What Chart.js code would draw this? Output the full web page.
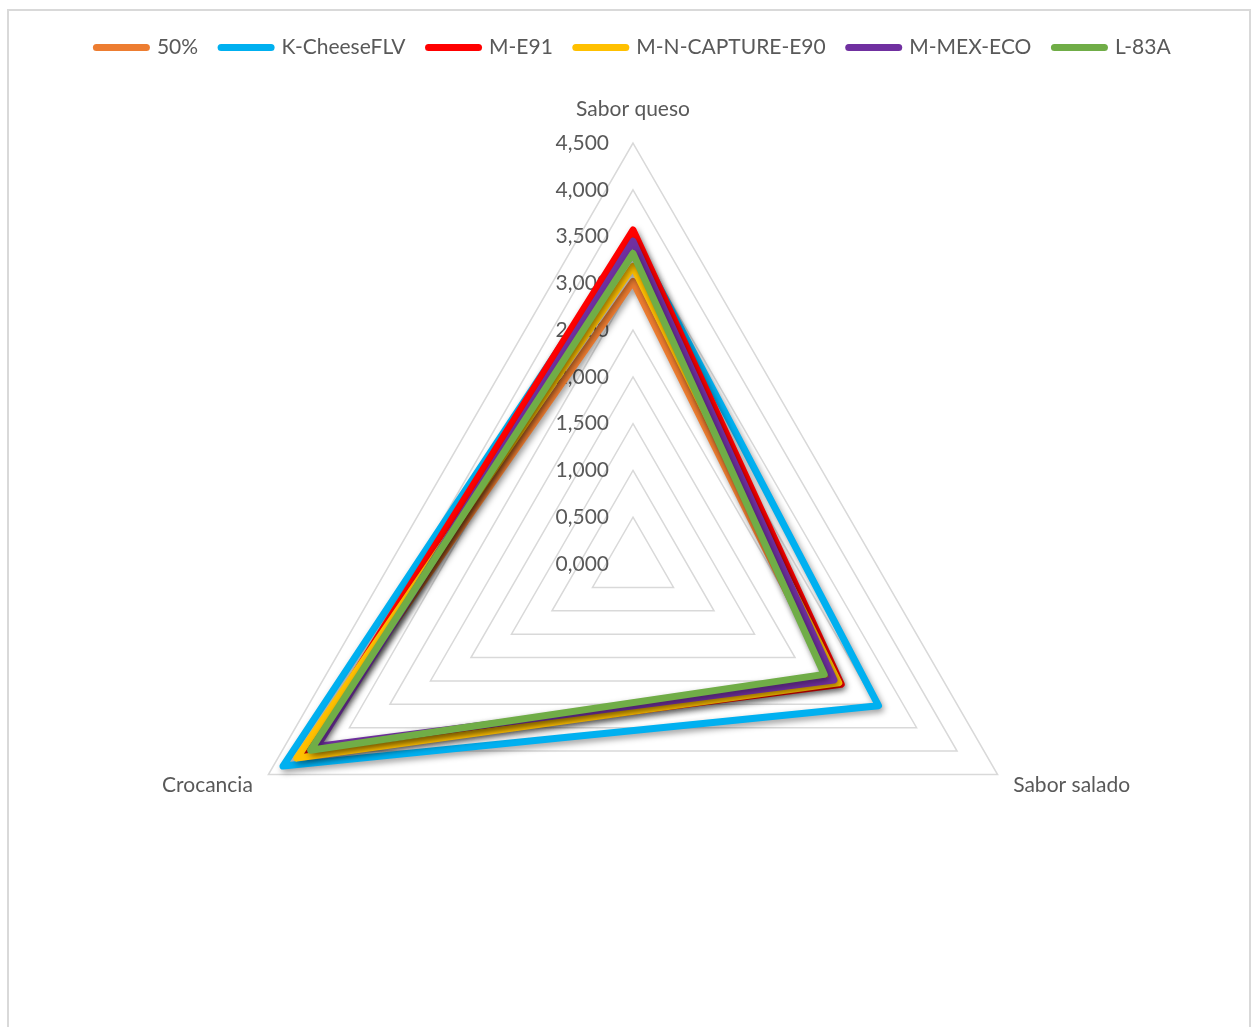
<!DOCTYPE html>
<html lang="es">
<head>
<meta charset="utf-8">
<title>Perfil sensorial</title>
<script src="https://cdn.jsdelivr.net/npm/chart.js@4.4.1/dist/chart.umd.min.js"></script>
<style>
  html, body { margin: 0; padding: 0; background: #fff; overflow: hidden; }
  #wrap { position: relative; width: 1257px; height: 1027px; }
  #marco { position: absolute; left: 7px; top: 9px; width: 1244px; height: 1040px; border: 2px solid #d9d9d9; box-sizing: border-box; }
  #grafico { position: absolute; left: 0; top: 0; }
</style>
</head>
<body>
<div id="wrap">
  <div id="marco"></div>
  <canvas id="grafico" width="1257" height="1027"></canvas>
</div>
<script>
// Atributos evaluados
const atributos = ['Sabor queso', 'Sabor salado', 'Crocancia'];

// Puntajes por muestra (queso, salado, crocancia)
const nombres = ['50%', 'K-CheeseFLV', 'M-E91', 'M-N-CAPTURE-E90', 'M-MEX-ECO', 'L-83A'];
const m50 = [3.02, 2.42, 4.08];
const kCheese = [3.50, 3.03, 4.32];
const mE91 = [3.57, 2.57, 4.05];
const mNCapture = [3.18, 2.54, 4.15];
const mMexEco = [3.45, 2.48, 3.90];
const l83a = [3.32, 2.36, 3.98];

const colores = ['#ED7D31', '#00B0F0', '#FF0000', '#FFC000', '#7030A0', '#70AD47'];

const escalaMin = 0;
const escalaMax = 4.5;
const escalaPaso = 0.5;

const fuente = 'Lato, "Open Sans", sans-serif';
const gris = '#595959';

const series = [m50, kCheese, mE91, mNCapture, mMexEco, l83a];

// etiquetas del eje radial a la izquierda del centro, con coma decimal
const etiquetasRadiales = {
  id: 'etiquetasRadiales',
  beforeDatasetsDraw(chart) {
    const r = chart.scales.r;
    const ctx = chart.ctx;
    ctx.save();
    ctx.font = '21px ' + fuente;
    ctx.fillStyle = gris;
    ctx.textAlign = 'right';
    ctx.textBaseline = 'middle';
    r.ticks.forEach(t => {
      const y = r.yCenter - r.getDistanceFromCenterForValue(t.value);
      ctx.fillText(t.value.toFixed(3).replace('.', ','), r.xCenter - 24, y);
    });
    ctx.restore();
  }
};

// sombra de las líneas, como en Excel
const sombra = {
  id: 'sombra',
  beforeDatasetsDraw(chart) {
    const ctx = chart.ctx;
    ctx.save();
    ctx.shadowColor = 'rgba(0,0,0,0.4)';
    ctx.shadowBlur = 6;
    ctx.shadowOffsetX = 2;
    ctx.shadowOffsetY = 3;
  },
  afterDatasetsDraw(chart) {
    chart.ctx.restore();
  }
};

new Chart(document.getElementById('grafico'), {
  type: 'radar',
  data: {
    labels: atributos,
    datasets: nombres.map((n, i) => ({
      label: n,
      data: series[i],
      borderColor: colores[i],
      backgroundColor: colores[i],
      borderWidth: 7,
      borderJoinStyle: 'round',
      fill: false,
      pointRadius: 0,
      pointHoverRadius: 0,
      // la última serie queda encima
      order: nombres.length - i
    }))
  },
  options: {
    responsive: false,
    animation: false,
    layout: { padding: { left: 10, top: 14, right: 0, bottom: 17 } },
    plugins: {
      tooltip: { enabled: false },
      legend: {
        position: 'top',
        labels: {
          usePointStyle: true,
          pointStyleWidth: 50,
          padding: 23,
          color: gris,
          font: { family: fuente, size: 21 },
          generateLabels: chart => chart.data.datasets.map((ds, i) => ({
            text: ds.label,
            strokeStyle: ds.borderColor,
            fillStyle: ds.borderColor,
            fontColor: gris,
            lineWidth: 7,
            lineCap: 'round',
            pointStyle: 'line',
            hidden: false,
            datasetIndex: i
          }))
        }
      }
    },
    scales: {
      r: {
        min: escalaMin,
        max: escalaMax,
        ticks: { stepSize: escalaPaso, display: false },
        angleLines: { display: false },
        grid: { circular: false, color: '#d9d9d9', lineWidth: 1.5 },
        pointLabels: {
          color: gris,
          padding: 18,
          font: ctx => ({ family: fuente, size: 21, lineHeight: ctx.index === 0 ? '32px' : '4px' })
        }
      }
    }
  },
  plugins: [etiquetasRadiales, sombra]
});
</script>
</body>
</html>
